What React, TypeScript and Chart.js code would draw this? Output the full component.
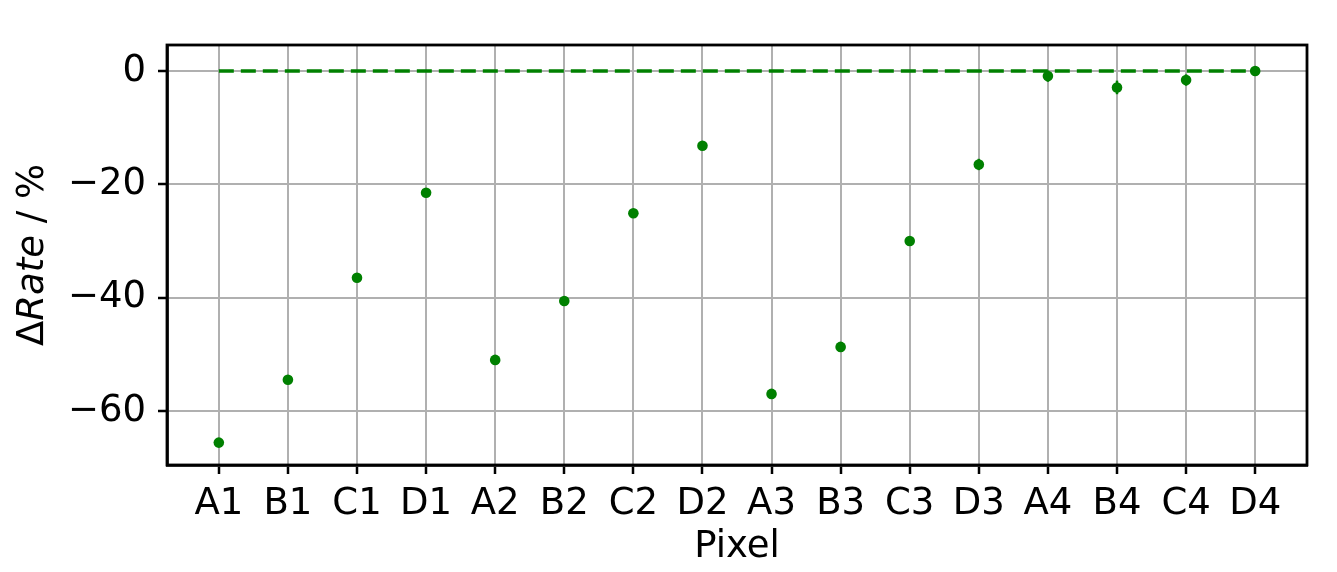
import React, { useEffect, useRef } from "react";
import { Chart, registerables } from "chart.js";

Chart.register(...registerables);

const categories = ["A1", "B1", "C1", "D1", "A2", "B2", "C2", "D2", "A3", "B3", "C3", "D3", "A4", "B4", "C4", "D4"];
const deltaRate = [-65.6, -54.5, -36.5, -21.5, -51.0, -40.6, -25.1, -13.2, -57.0, -48.7, -30.0, -16.5, -0.9, -2.9, -1.6, 0.0];
const deltaErr = [0.4, 0.4, 0.4, 0.4, 0.4, 0.4, 0.4, 0.4, 0.4, 0.4, 0.4, 1.0, 1.0, 1.2, 1.0, 0.8];
const yTicks = [-60, -40, -20, 0];
const baselineValue = 0;
const xTitle = "Pixel";

const FONT = "DejaVu Sans";
const GREEN = "#008000";

const errorBarPlugin = {
  id: "errorBars",
  beforeDatasetsDraw(chart: any) {
    const { ctx, scales } = chart;
    const xs = scales.x;
    const ys = scales.y;
    ctx.save();
    ctx.strokeStyle = GREEN;
    ctx.lineWidth = 2.5;
    deltaRate.forEach((v, i) => {
      const px = xs.getPixelForValue(i);
      ctx.beginPath();
      ctx.moveTo(px, ys.getPixelForValue(v - deltaErr[i]));
      ctx.lineTo(px, ys.getPixelForValue(v + deltaErr[i]));
      ctx.stroke();
    });
    ctx.restore();
  },
};

const framePlugin = {
  id: "frameAndTitles",
  afterDraw(chart: any) {
    const { ctx, chartArea } = chart;
    ctx.save();
    ctx.strokeStyle = "#000";
    ctx.lineWidth = 2.8;
    ctx.strokeRect(chartArea.left, chartArea.top, chartArea.right - chartArea.left, chartArea.bottom - chartArea.top);

    // x title
    ctx.fillStyle = "#000";
    ctx.font = `37px "${FONT}"`;
    ctx.textAlign = "center";
    ctx.textBaseline = "middle";
    ctx.fillText(xTitle, (chartArea.left + chartArea.right) / 2, 547);

    // y title: Δ + italic Rate + " / %"
    const parts = [
      { t: "Δ", f: `37px "${FONT}"` },
      { t: "Rate", f: `italic 37px "${FONT}"` },
      { t: " / %", f: `37px "${FONT}"` },
    ];
    let total = 0;
    const widths = parts.map((p) => {
      ctx.font = p.f;
      const w = ctx.measureText(p.t).width;
      total += w;
      return w;
    });
    ctx.translate(33, (chartArea.top + chartArea.bottom) / 2);
    ctx.rotate(-Math.PI / 2);
    ctx.textAlign = "left";
    ctx.textBaseline = "middle";
    let x = -total / 2;
    parts.forEach((p, i) => {
      ctx.font = p.f;
      ctx.fillText(p.t, x, 0);
      x += widths[i];
    });
    ctx.restore();
  },
};

export default function App() {
  const ref = useRef<HTMLCanvasElement>(null);
  useEffect(() => {
    document.body.style.margin = "0";
    const c = ref.current!;
    const chart = new Chart(c, {
      type: "scatter",
      data: {
        datasets: [
          {
            type: "line",
            data: [
              { x: 0, y: baselineValue },
              { x: categories.length - 1, y: baselineValue },
            ],
            borderColor: GREEN,
            borderWidth: 3.5,
            borderDash: [15, 7],
            pointRadius: 0,
            fill: false,
          } as any,
          {
            data: deltaRate.map((v, i) => ({ x: i, y: v })),
            backgroundColor: GREEN,
            borderColor: GREEN,
            pointRadius: 5.3,
            pointBorderWidth: 0,
          },
        ],
      },
      options: {
        responsive: false,
        animation: false,
        layout: { padding: { left: 0, right: 30, top: 45, bottom: 0 } },
        plugins: { legend: { display: false }, tooltip: { enabled: false } },
        scales: {
          x: {
            type: "linear",
            min: -0.75,
            max: categories.length - 1 + 0.75,
            afterBuildTicks: (s: any) => {
              s.ticks = categories.map((_, i) => ({ value: i }));
            },
            afterFit: (s: any) => {
              s.height = 107;
            },
            ticks: {
              autoSkip: false,
              maxRotation: 0,
              padding: 8,
              color: "#000",
              font: { family: FONT, size: 37 },
              callback: (v: any) => categories[v] ?? "",
            },
            grid: {
              color: "#b0b0b0",
              lineWidth: 2,
              tickColor: "#000",
              tickLength: 9,
              tickWidth: 2.5,
            },
            border: { display: true, color: "#000", width: 2.8 },
          },
          y: {
            min: -69.55,
            max: 4.59,
            afterBuildTicks: (s: any) => {
              s.ticks = yTicks.map((v) => ({ value: v }));
            },
            afterFit: (s: any) => {
              s.width = 167;
            },
            ticks: {
              padding: 12,
              color: "#000",
              font: { family: FONT, size: 37 },
              callback: (v: any) => String(v).replace("-", "\u2212"),
            },
            grid: {
              color: "#b0b0b0",
              lineWidth: 2,
              tickColor: "#000",
              tickLength: 9,
              tickWidth: 2.5,
            },
            border: { display: true, color: "#000", width: 2.8 },
          },
        },
      },
      plugins: [errorBarPlugin, framePlugin],
    });
    return () => chart.destroy();
  }, []);
  return (
    <div style={{ width: 1337, height: 572 }}>
      <canvas ref={ref} width={1337} height={572} style={{ display: "block" }} />
    </div>
  );
}
